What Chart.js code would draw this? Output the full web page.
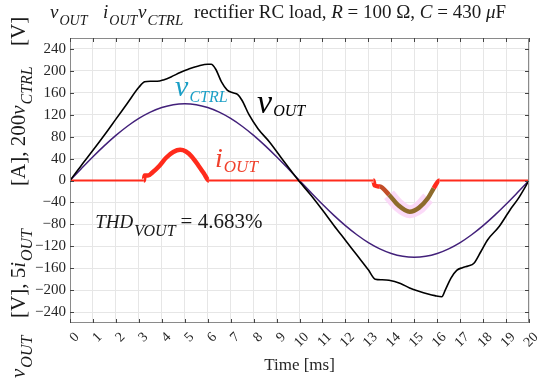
<!DOCTYPE html>
<html>
<head>
<meta charset="utf-8">
<script src="https://cdn.jsdelivr.net/npm/chart.js@4.4.0/dist/chart.umd.min.js"></script>
<style>
	html, body { margin: 0; padding: 0; background: #fff; }
</style>
</head>
<body>
<canvas id="chart" width="550" height="380"></canvas>
<script>
// time axis ticks [ms] and y ticks
var xTicks = [0, 1, 2, 3, 4, 5, 6, 7, 8, 9, 10, 11, 12, 13, 14, 15, 16, 17, 18, 19, 20];
var yTicks = [-240, -200, -160, -120, -80, -40, 0, 40, 80, 120, 160, 200, 240];

// v_OUT [V]
var vOutT = [0, 0.5, 1, 1.5, 2, 2.5, 3, 3.25, 3.5, 3.8, 4.1, 4.4, 4.8, 5.2, 5.6, 6.0, 6.15, 6.35, 6.6, 6.85, 7.1, 7.3, 7.5, 7.8, 8.2, 8.7, 9.3, 9.9,
	10.5, 11, 11.5, 12, 12.5, 13, 13.3, 13.6, 13.9, 14.4, 14.8, 15.2, 15.6, 15.9, 16.2, 16.35, 16.6, 16.85, 17.1, 17.35, 17.6, 17.9, 18.2, 18.7, 19.2, 19.5, 20];
var vOutV = [0, 28, 55, 83, 112, 141, 170, 180, 181, 181, 184, 189, 197, 204, 209, 212, 212, 203, 180, 165, 160, 157, 146, 120, 94, 70, 36, 3,
	-27, -54, -82, -109, -136, -163, -180, -181, -182, -188, -196, -202, -207, -210, -212, -200, -178, -164, -159, -156, -151, -130, -108, -84, -52, -35, 0];

// 200 v_CTRL [V]
var vCtrlT = [0, 0.5, 1, 1.5, 2, 2.5, 3, 3.5, 4, 4.5, 5, 5.5, 6, 6.5, 7, 7.5, 8, 8.5, 9, 9.5, 10,
	10.5, 11, 11.5, 12, 12.5, 13, 13.5, 14, 14.5, 15, 15.5, 16, 16.5, 17, 17.5, 18, 18.5, 19, 19.5, 20];
var vCtrlV = [0, 21.9, 43.3, 63.6, 82.3, 99, 113.3, 124.7, 133.1, 138.3, 140, 138.3, 133.1, 124.7, 113.3, 99, 82.3, 63.6, 43.3, 21.9, 0,
	-21.9, -43.3, -63.6, -82.3, -99, -113.3, -124.7, -133.1, -138.3, -140, -138.3, -133.1, -124.7, -113.3, -99, -82.3, -63.6, -43.3, -21.9, 0];

// 5 i_OUT [A]
var iOutT = [0, 3.22, 3.25, 3.4, 3.6, 3.9, 4.2, 4.5, 4.8, 5.05, 5.3, 5.6, 5.85, 6.05,
	13.22, 13.27, 13.5, 13.9, 14.3, 14.8, 15.2, 15.6, 15.85, 16.1, 20];
var iOutV = [0, 0, 9, 9, 15, 27, 42, 52, 56, 53, 44, 27, 12, 0,
	0, -9, -11, -26, -45, -57, -50, -32, -14, 0, 0];

function pts(t, v) {
	return t.map(function (x, i) { return { x: x, y: v[i] }; });
}

var serif = '"Liberation Serif", "Times New Roman", serif';
function fnt(size, italic) {
	return (italic ? 'italic ' : '') + size + 'px ' + serif;
}

// draws a run of text pieces; a piece may carry its own offset "at"
function rich(ctx, x, y, parts) {
	var cx = x;
	parts.forEach(function (p) {
		if (p.at !== undefined) cx = x + p.at;
		ctx.font = p.font;
		ctx.fillStyle = p.color || '#1a1a1a';
		ctx.fillText(p.t, cx, y + (p.dy || 0));
		cx += ctx.measureText(p.t).width + (p.gap || 0);
	});
}

var decor = {
	id: 'decor',
	afterDatasetsDraw: function (c) {
		var ctx = c.ctx, a = c.chartArea, sx = c.scales.x, sy = c.scales.y;
		ctx.save();
		ctx.textBaseline = 'alphabetic';
		ctx.textAlign = 'left';

		// frame + inner ticks
		ctx.strokeStyle = '#8a8a8a';
		ctx.lineWidth = 1;
		ctx.strokeRect(a.left + 0.5, a.top + 0.5, a.right - a.left - 1, a.bottom - a.top - 1);
		ctx.strokeStyle = '#444';
		ctx.beginPath();
		xTicks.forEach(function (t) {
			var px = Math.round(sx.getPixelForValue(t)) + 0.5;
			ctx.moveTo(px, a.bottom); ctx.lineTo(px, a.bottom - 4);
			ctx.moveTo(px, a.top); ctx.lineTo(px, a.top + 4);
		});
		yTicks.forEach(function (v) {
			var py = Math.round(sy.getPixelForValue(v)) + 0.5;
			ctx.moveTo(a.left, py); ctx.lineTo(a.left + 4, py);
			ctx.moveTo(a.right, py); ctx.lineTo(a.right - 4, py);
		});
		ctx.stroke();

		// curve labels
		rich(ctx, sx.getPixelForValue(4.58), sy.getPixelForValue(155), [
			{ t: 'v', font: fnt(30, true), color: '#1b9fc6', gap: 1 },
			{ t: 'CTRL', font: fnt(16, true), color: '#1b9fc6', dy: 6 }
		]);
		rich(ctx, sx.getPixelForValue(8.15), sy.getPixelForValue(124), [
			{ t: 'v', font: fnt(34, true), color: '#000', gap: 1 },
			{ t: 'OUT', font: fnt(16, true), color: '#000', dy: 3 }
		]);
		rich(ctx, sx.getPixelForValue(6.32), sy.getPixelForValue(24), [
			{ t: 'i', font: fnt(28, true), color: '#f0402c', gap: 1 },
			{ t: 'OUT', font: fnt(17, true), color: '#f0402c', dy: 5 }
		]);
		rich(ctx, sx.getPixelForValue(1.1), sy.getPixelForValue(-86), [
			{ t: 'THD', font: fnt(19, true), gap: 1 },
			{ t: 'VOUT', font: fnt(16, true), dy: 8, gap: 5 },
			{ t: '= 4.683%', font: fnt(21, false) }
		]);

		// title
		rich(ctx, 50, 18, [
			{ t: 'v', font: fnt(19, true), gap: 1 },
			{ t: 'OUT', font: fnt(14, true), dy: 7 },
			{ t: 'i', font: fnt(19, true), gap: 1, at: 53 },
			{ t: 'OUT', font: fnt(14, true), dy: 7 },
			{ t: 'v', font: fnt(19, true), gap: 1, at: 88 },
			{ t: 'CTRL', font: fnt(15, true), dy: 7 },
			{ t: 'rectifier RC load, ', font: fnt(19, false), at: 144 },
			{ t: 'R', font: fnt(19, true) },
			{ t: ' = 100 \u03A9, ', font: fnt(19, false) },
			{ t: 'C', font: fnt(19, true) },
			{ t: ' = 430 ', font: fnt(19, false) },
			{ t: '\u03BC', font: fnt(19, true) },
			{ t: 'F', font: fnt(19, false) }
		]);

		// y axis title, rotated, read bottom to top
		ctx.translate(25, 378);
		ctx.rotate(-Math.PI / 2);
		rich(ctx, 0, 0, [
			{ t: 'v', font: fnt(21, true), gap: 1 },
			{ t: 'OUT', font: fnt(16, true), dy: 7 },
			{ t: '[V], 5', font: fnt(21, false), at: 60 },
			{ t: 'i', font: fnt(21, true), gap: 1 },
			{ t: 'OUT', font: fnt(16, true), dy: 7 },
			{ t: '[A], 200', font: fnt(21, false), at: 192 },
			{ t: 'v', font: fnt(21, true), gap: 1 },
			{ t: 'CTRL', font: fnt(16, true), dy: 7 },
			{ t: '[V]', font: fnt(21, false), at: 332 }
		]);
		ctx.restore();
	}
};

var red = '#ff2b1c';
var olive = '#8d6b2b';

var chart = new Chart(document.getElementById('chart').getContext('2d'), {
	type: 'line',
	data: {
		datasets: [{
			label: 'pink',
			data: pts(iOutT, iOutV).filter(function (p) { return p.x >= 13.8 && p.x <= 15.7; }),
			borderColor: 'rgba(250, 212, 247, 0.85)',
			borderWidth: 13,
			borderCapStyle: 'butt',
			pointRadius: 0,
			cubicInterpolationMode: 'monotone',
			order: 5
		}, {
			label: 'vCTRL',
			data: pts(vCtrlT, vCtrlV),
			borderColor: '#42207a',
			borderWidth: 1.5,
			pointRadius: 0,
			cubicInterpolationMode: 'monotone',
			order: 3
		}, {
			label: 'iOUT',
			data: pts(iOutT, iOutV),
			borderColor: red,
			borderWidth: 1.8,
			pointRadius: 0,
			cubicInterpolationMode: 'monotone',
			segment: {
				borderWidth: function (s) {
					return (s.p0.parsed.y !== 0 || s.p1.parsed.y !== 0) ? 4.5 : 1.8;
				},
				borderColor: function (s) {
					var m = (s.p0.parsed.x + s.p1.parsed.x) / 2;
					if (m > 13.75 && m < 15.75) return olive;
					if (m > 13.55 && m < 15.95) return '#c24d28';
					return red;
				}
			},
			order: 2
		}, {
			label: 'vOUT',
			data: pts(vOutT, vOutV),
			borderColor: '#000',
			borderWidth: 1.6,
			pointRadius: 0,
			cubicInterpolationMode: 'monotone',
			order: 1
		}]
	},
	options: {
		responsive: false,
		animation: false,
		layout: { padding: { top: 38, right: 21, left: 0, bottom: 0 } },
		plugins: { legend: { display: false }, tooltip: { enabled: false } },
		scales: {
			x: {
				type: 'linear',
				min: 0,
				max: 20,
				afterBuildTicks: function (s) { s.ticks = xTicks.map(function (v) { return { value: v }; }); },
				afterFit: function (s) { s.height = 57; },
				grid: { color: '#e6e6e6', drawTicks: false },
				border: { display: false },
				ticks: {
					autoSkip: false,
					maxRotation: 45,
					minRotation: 45,
					padding: 6,
					labelOffset: 7,
					color: '#262626',
					font: { family: serif, size: 14 }
				},
				title: {
					display: true,
					text: 'Time [ms]',
					color: '#262626',
					padding: { top: 0, bottom: 4 },
					font: { family: serif, size: 17 }
				}
			},
			y: {
				min: -260,
				max: 260,
				afterBuildTicks: function (s) { s.ticks = yTicks.map(function (v) { return { value: v }; }); },
				afterFit: function (s) { s.width = 70; },
				grid: { color: '#e6e6e6', drawTicks: false },
				border: { display: false },
				ticks: {
					padding: 4,
					color: '#262626',
					font: { family: serif, size: 15 },
					callback: function (v) { return v < 0 ? '\u2212' + Math.abs(v) : '' + v; }
				}
			}
		}
	},
	plugins: [decor]
});
</script>
</body>
</html>
